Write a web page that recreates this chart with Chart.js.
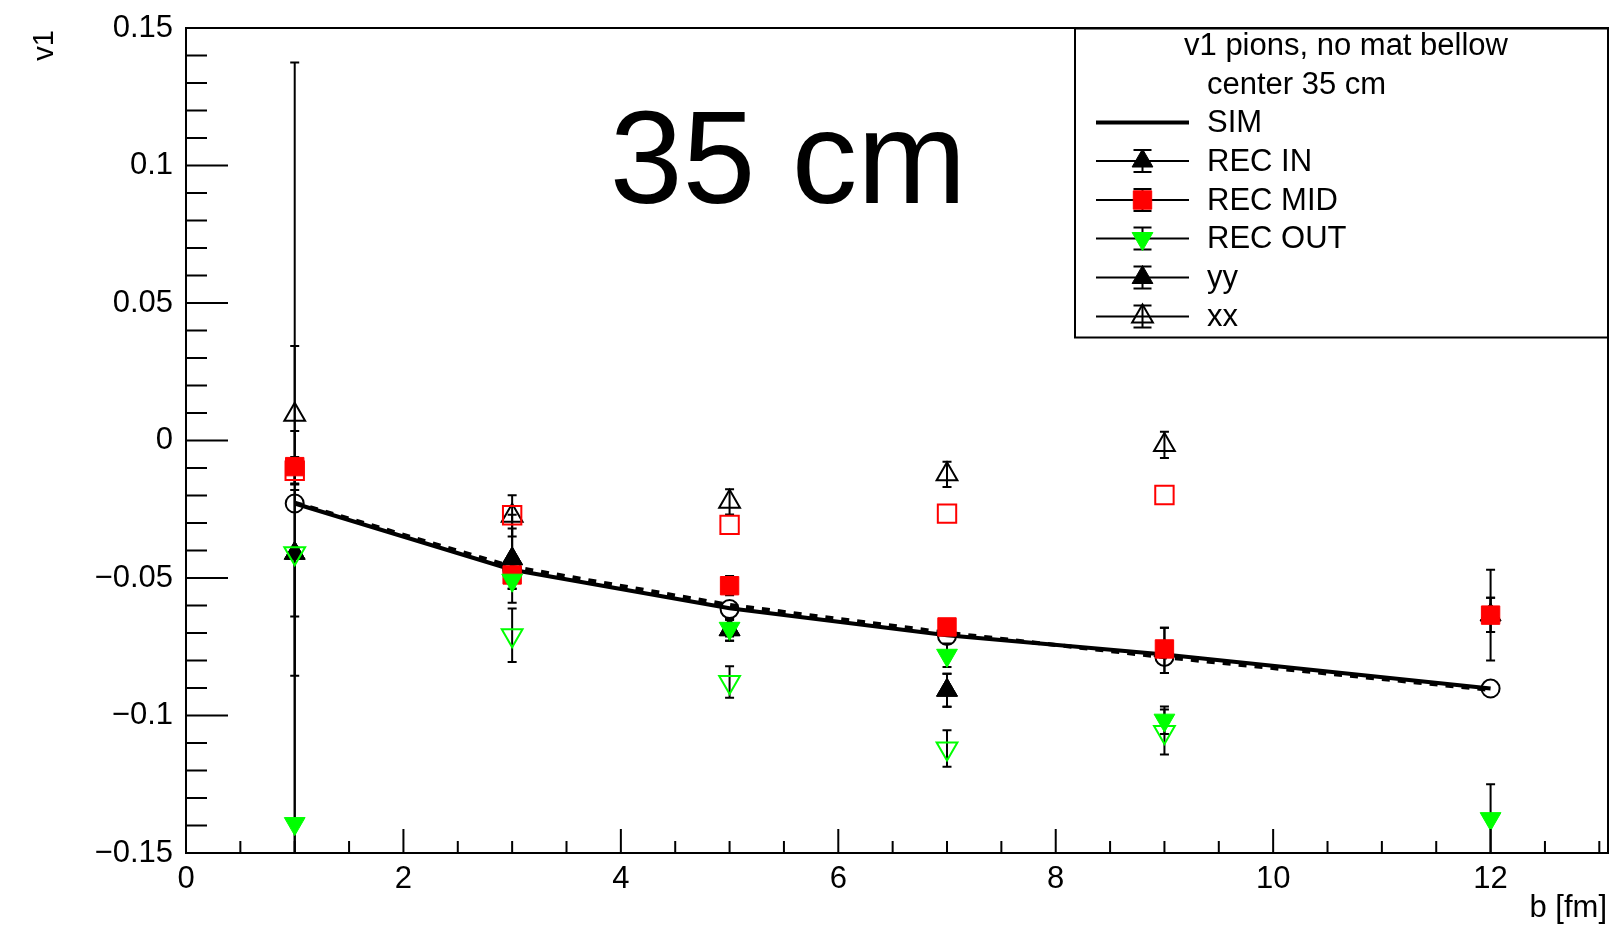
<!DOCTYPE html>
<html>
<head>
<meta charset="utf-8">
<title>v1 pions, no mat bellow - center 35 cm</title>
<script src="https://cdn.jsdelivr.net/npm/chart.js@4.4.1/dist/chart.umd.min.js"></script>
<style>
    html, body { margin: 0; padding: 0; background: #fff; }
    canvas { display: block; }
</style>
</head>
<body>
<canvas id="v1Chart" width="1610" height="925"></canvas>
<script>
// v1 of pions vs impact parameter, detector center at 35 cm

// impact parameter b [fm]
const bValues = [1, 3, 5, 7, 9, 12];

// simulated v1 (solid), second sim curve (dashed) and its open circles
const simLine = [-0.0229, -0.0470, -0.0610, -0.0708, -0.0778, -0.0902];
const simDashed = [-0.0226, -0.0459, -0.0598, -0.0699, -0.0788, -0.0907];
const simCircles = [-0.0229, -0.0470, -0.0613, -0.0711, -0.0787, -0.0902];

// reconstructed, filled markers
const recIn = [-0.0410, -0.0430, -0.0688, -0.0908, -0.0763, -0.0634];
const recInErr = [0.0445, 0.0110, 0.0040, 0.0060, 0.0082, 0.0062];
const recMid = [-0.0095, -0.0489, -0.0528, -0.0678, -0.0758, -0.0635];
const recMidErr = [0.1470, 0.0020, 0.0035, 0.0020, 0.0020, 0.0165];
const recOut = [-0.1393, -0.0508, -0.0683, -0.0781, -0.1017, -0.1375];
const recOutErr = [0.1000, 0.0030, 0.0030, 0.0043, 0.0050, 0.0125];
const yy = [-0.0410, -0.0430, -0.0688, -0.0908, -0.0763, -0.0634];
const yyErr = [0.0230, 0.0160, 0.0040, 0.0060, 0.0082, 0.0062];

// open markers
const xx = [0.0094, -0.0274, -0.0223, -0.0123, -0.0016, null];
const xxErr = [0.0250, 0.0075, 0.0046, 0.0046, 0.0048, null];
const recMidOpen = [-0.0110, -0.0272, -0.0307, -0.0266, -0.0198, null];
const recMidOpenErr = [0.0050, null, null, null, null, null];
const recOutOpen = [-0.0410, -0.0708, -0.0878, -0.1120, -0.1060, null];
const recOutOpenErr = [0.0020, 0.0097, 0.0057, 0.0066, 0.0082, null];

// axis ticks
const xTickValues = [0, 2, 4, 6, 8, 10, 12];
const yTickValues = [-0.15, -0.1, -0.05, 0, 0.05, 0.1, 0.15];
const yTickLabels = ['\u22120.15', '\u22120.1', '\u22120.05', '0', '0.05', '0.1', '0.15'];

const legendOrder = ['SIM', 'REC IN', 'REC MID', 'REC OUT', 'yy', 'xx'];

const FONT = '"Liberation Sans", Arial, Helvetica, sans-serif';
const RED = '#ff0000';
const GREEN = '#00ff00';
const BLACK = '#000000';
const NONE = 'rgba(0,0,0,0)';

function points(values) {
    const out = [];
    bValues.forEach((b, i) => {
        if (values[i] !== null) out.push({ x: b, y: values[i] });
    });
    return out;
}

function markerSet(label, values, errors, style, color, filled, rotation, radius, inLegend) {
    return {
        label: label,
        data: points(values),
        errors: errors,
        inLegend: inLegend,
        showLine: false,
        pointStyle: style,
        rotation: rotation,
        pointRadius: radius,
        pointHoverRadius: radius,
        pointBackgroundColor: filled ? color : NONE,
        pointBorderColor: color,
        pointBorderWidth: filled ? 1 : 2,
        borderColor: color,
        backgroundColor: filled ? color : NONE
    };
}

// first dataset is drawn on top
const datasets = [
    markerSet('REC OUT', recOut, recOutErr, 'triangle', GREEN, true, 180, 12, true),
    markerSet('REC MID', recMid, recMidErr, 'rect', RED, true, 0, 13, true),
    markerSet('REC OUT open', recOutOpen, recOutOpenErr, 'triangle', GREEN, false, 180, 12, false),
    markerSet('REC MID open', recMidOpen, recMidOpenErr, 'rect', RED, false, 0, 13, false),
    markerSet('xx', xx, xxErr, 'triangle', BLACK, false, 0, 12, true),
    markerSet('yy', yy, yyErr, 'triangle', BLACK, true, 0, 12, true),
    markerSet('REC IN', recIn, recInErr, 'triangle', BLACK, true, 0, 12, true),
    markerSet('SIM points', simCircles, null, 'circle', BLACK, false, 0, 9, false),
    {
        label: 'SIM',
        data: points(simLine),
        inLegend: true,
        borderColor: BLACK,
        borderWidth: 4,
        pointRadius: 0,
        tension: 0,
        fill: false
    },
    {
        label: 'SIM dashed',
        data: points(simDashed),
        borderColor: BLACK,
        borderWidth: 4,
        borderDash: [8, 8],
        pointRadius: 0,
        tension: 0,
        fill: false
    }
];

// vertical error bars with small caps, under the markers
const errorBars = {
    id: 'errorBars',
    beforeDatasetsDraw(chart) {
        const { ctx, chartArea: a, scales: { x, y } } = chart;
        ctx.save();
        ctx.beginPath();
        ctx.rect(a.left, a.top, a.right - a.left, a.bottom - a.top);
        ctx.clip();
        ctx.strokeStyle = BLACK;
        ctx.lineWidth = 2;
        chart.data.datasets.forEach(ds => {
            if (!ds.errors) return;
            bValues.forEach((b, i) => {
                const err = ds.errors[i];
                const v = ds.data.find(p => p.x === b);
                if (!v || err === null) return;
                const px = x.getPixelForValue(b);
                const yTop = y.getPixelForValue(v.y + err);
                const yBot = y.getPixelForValue(v.y - err);
                ctx.beginPath();
                ctx.moveTo(px, yTop);
                ctx.lineTo(px, yBot);
                ctx.moveTo(px - 4.5, yTop);
                ctx.lineTo(px + 4.5, yTop);
                ctx.moveTo(px - 4.5, yBot);
                ctx.lineTo(px + 4.5, yBot);
                ctx.stroke();
            });
        });
        ctx.restore();
    }
};

// ROOT style frame with inner ticks
const frameTicks = {
    id: 'frameTicks',
    afterDatasetsDraw(chart) {
        const { ctx, chartArea: a, scales: { x, y } } = chart;
        ctx.save();
        ctx.strokeStyle = BLACK;
        ctx.lineWidth = 2;
        ctx.strokeRect(a.left, a.top, a.right - a.left, a.bottom - a.top);
        ctx.beginPath();
        for (let k = 0; k <= 30; k++) {
            const py = y.getPixelForValue(-0.15 + k * 0.01);
            ctx.moveTo(a.left, py);
            ctx.lineTo(a.left + (k % 5 === 0 ? 42 : 21), py);
        }
        for (let k = 0; k <= 26; k++) {
            const px = x.getPixelForValue(k * 0.5);
            ctx.moveTo(px, a.bottom);
            ctx.lineTo(px, a.bottom - (k % 4 === 0 ? 24 : 12));
        }
        ctx.stroke();
        ctx.restore();
    }
};

// titles, big label and the legend box
const annotations = {
    id: 'annotations',
    afterDraw(chart) {
        const { ctx } = chart;
        ctx.save();
        ctx.fillStyle = BLACK;

        ctx.font = '131px ' + FONT;
        ctx.textAlign = 'center';
        ctx.textBaseline = 'alphabetic';
        ctx.fillText('35 cm', 788, 203);

        ctx.font = '31px ' + FONT;
        ctx.textAlign = 'right';
        ctx.fillText('b [fm]', 1607, 917);

        ctx.save();
        ctx.font = '29px ' + FONT;
        ctx.translate(53, 30);
        ctx.rotate(-Math.PI / 2);
        ctx.textAlign = 'right';
        ctx.fillText('v1', 0, 0);
        ctx.restore();

        // legend
        ctx.strokeStyle = BLACK;
        ctx.lineWidth = 2;
        ctx.strokeRect(1075, 28.5, 533, 309);
        ctx.font = '31px ' + FONT;
        ctx.textBaseline = 'middle';
        ctx.textAlign = 'center';
        ctx.fillText('v1 pions, no mat bellow', 1346, 46);
        ctx.textAlign = 'left';
        ctx.fillText('center 35 cm', 1207, 85);

        const rowY = [122.5, 161, 200, 238.5, 277.5, 316.5];
        legendOrder.forEach((name, r) => {
            const ds = chart.data.datasets.find(d => d.label === name);
            const ly = rowY[r];
            ctx.fillStyle = BLACK;
            ctx.fillText(name, 1207, ly + 1);
            ctx.strokeStyle = BLACK;
            ctx.beginPath();
            ctx.lineWidth = ds.pointStyle ? 2 : 4;
            ctx.moveTo(1096, ly);
            ctx.lineTo(1189, ly);
            ctx.stroke();
            if (!ds.pointStyle) return;
            ctx.beginPath();
            ctx.lineWidth = 2;
            ctx.moveTo(1142.5, ly - 11);
            ctx.lineTo(1142.5, ly + 11);
            ctx.moveTo(1133.5, ly - 11);
            ctx.lineTo(1151.5, ly - 11);
            ctx.moveTo(1133.5, ly + 11);
            ctx.lineTo(1151.5, ly + 11);
            ctx.stroke();
            ctx.fillStyle = ds.pointBackgroundColor;
            ctx.strokeStyle = ds.pointBorderColor;
            ctx.lineWidth = ds.pointBorderWidth;
            Chart.helpers.drawPoint(ctx, {
                pointStyle: ds.pointStyle,
                rotation: ds.rotation,
                radius: ds.pointRadius,
                borderWidth: ds.pointBorderWidth
            }, 1142.5, ly);
        });
        ctx.restore();
    }
};

Chart.defaults.font.family = FONT;
Chart.defaults.color = BLACK;

new Chart(document.getElementById('v1Chart'), {
    type: 'line',
    data: { datasets: datasets },
    plugins: [errorBars, frameTicks, annotations],
    options: {
        responsive: false,
        animation: false,
        devicePixelRatio: 1,
        layout: {
            autoPadding: false,
            padding: { left: 0, top: 28, right: 2, bottom: 0 }
        },
        plugins: {
            legend: { display: false },
            tooltip: { enabled: false }
        },
        scales: {
            x: {
                type: 'linear',
                min: 0,
                max: 13.08,
                grid: { display: false, drawTicks: false },
                border: { display: false },
                afterBuildTicks: axis => { axis.ticks = xTickValues.map(v => ({ value: v })); },
                afterFit: axis => {
                    axis.height = 72;
                    axis.paddingLeft = 0;
                    axis.paddingRight = 0;
                },
                ticks: {
                    autoSkip: false,
                    maxRotation: 0,
                    padding: 8,
                    font: { size: 31 },
                    color: BLACK,
                    callback: value => String(value)
                }
            },
            y: {
                type: 'linear',
                min: -0.15,
                max: 0.15,
                grid: { display: false, drawTicks: false },
                border: { display: false },
                afterBuildTicks: axis => { axis.ticks = yTickValues.map(v => ({ value: v })); },
                afterFit: axis => {
                    axis.width = 186;
                    axis.paddingTop = 0;
                    axis.paddingBottom = 0;
                },
                ticks: {
                    autoSkip: false,
                    padding: 13,
                    font: { size: 31 },
                    color: BLACK,
                    callback: value => {
                        const i = yTickValues.findIndex(t => Math.abs(t - value) < 1e-9);
                        return i >= 0 ? yTickLabels[i] : '';
                    }
                }
            }
        }
    }
});
</script>
</body>
</html>
